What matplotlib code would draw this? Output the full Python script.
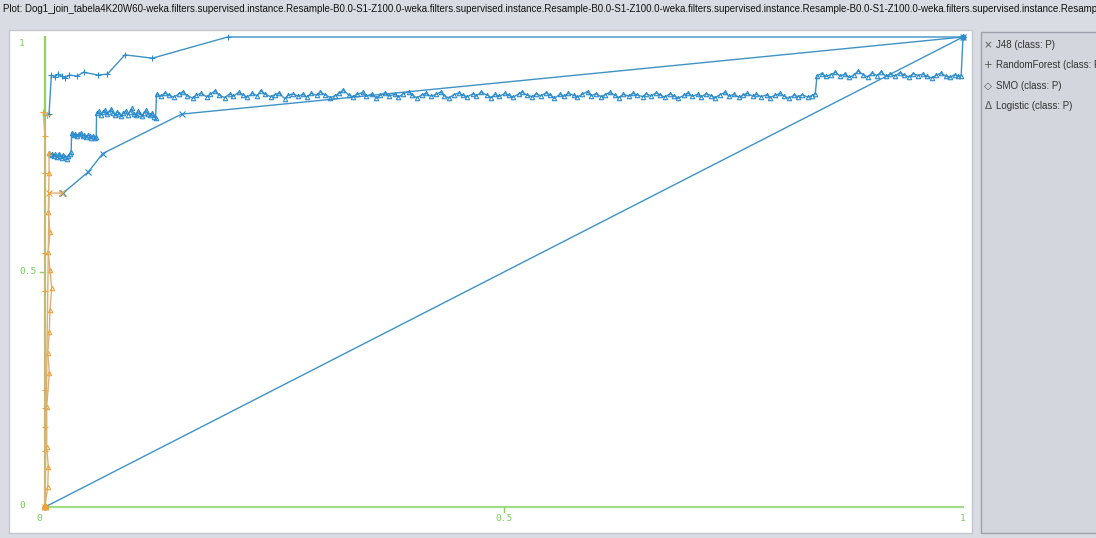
import matplotlib
matplotlib.use("Agg")
import matplotlib.pyplot as plt
from matplotlib.patches import Rectangle

# ---------------------------------------------------------------- data
title = ("Plot: Dog1_join_tabela4K20W60-weka.filters.supervised.instance.Resample-B0.0-S1-Z100.0"
         "-weka.filters.supervised.instance.Resample-B0.0-S1-Z100.0"
         "-weka.filters.supervised.instance.Resample-B0.0-S1-Z100.0"
         "-weka.filters.supervised.instance.Resamp")

legend_symbols = ["\u00d7", "+", "\u25c7", "\u0394"]
legend_labels = ["J48 (class: P)", "RandomForest (class: P)", "SMO (class: P)", "Logistic (class: P)"]

x_ticks = [0, 0.5, 1]
x_tick_labels = ["0", "0.5", "1"]
y_ticks = [0, 0.5, 1]
y_tick_labels = ["0", "0.5", "1"]

# J48: high-threshold part, then the rest
j48_fpr_hi = [0.0, 0.0044, 0.0185]
j48_tpr_hi = [0.0, 0.668, 0.668]
j48_fpr = [0.0185, 0.0196, 0.0472, 0.0628, 0.149, 1.0]
j48_tpr = [0.668, 0.668, 0.713, 0.752, 0.836, 1.0]

# RandomForest
rf_fpr_hi = [0.0, 0.0, 0.0, 0.0, 0.0, 0.0, 0.0, 0.0, 0.0, -0.002, 0.0025]
rf_tpr_hi = [0.0, 0.12, 0.17, 0.21, 0.25, 0.46, 0.54, 0.71, 0.79, 0.84, 0.835]
rf_fpr = [0.0025, 0.0044, 0.0069, 0.011, 0.014, 0.018, 0.022, 0.0265, 0.035,
          0.042, 0.058, 0.068, 0.087, 0.117, 0.199, 1.0]
rf_tpr = [0.835, 0.836, 0.919, 0.915, 0.921, 0.917, 0.913, 0.919, 0.917,
          0.925, 0.919, 0.921, 0.962, 0.955, 1.0, 1.0]

# SMO
smo_fpr = [0.0, 1.0]
smo_tpr = [0.0, 1.0]

# Logistic
log_fpr_hi = [0.0, 0.003, 0.0036, 0.0019, 0.0019, 0.0047, 0.003, 0.0047, 0.0054,
              0.0073, 0.0054, 0.0036, 0.0054, 0.0036, 0.0044, 0.0044]
log_tpr_hi = [0.003, 0.043, 0.086, 0.128, 0.213, 0.286, 0.328, 0.373, 0.419,
              0.466, 0.504, 0.543, 0.585, 0.628, 0.711, 0.754]

log_fpr = [
    # first plateau
    0.0044, 0.0060, 0.0078, 0.0095, 0.0112, 0.0130, 0.0148, 0.0165, 0.0182, 0.0200,
    0.0218, 0.0236, 0.0255, 0.0272, 0.0285,
    # second plateau
    0.0290, 0.0312, 0.0330, 0.0351, 0.0370, 0.0392, 0.0410, 0.0428, 0.0447, 0.0466,
    0.0485, 0.0503, 0.0522, 0.0540, 0.0558,
    # third plateau
    0.0562, 0.0585, 0.0606, 0.0630, 0.0651, 0.0675, 0.0698, 0.0720, 0.0742, 0.0765,
    0.0788, 0.0810, 0.0833, 0.0855, 0.0878, 0.0900, 0.0922, 0.0945, 0.0967, 0.0990,
    0.1012, 0.1035, 0.1058, 0.1080, 0.1102, 0.1125, 0.1148, 0.1170, 0.1190, 0.1205,
    # long plateau
    0.1215, 0.126, 0.131, 0.135, 0.140, 0.146, 0.150, 0.155, 0.161, 0.165,
    0.170, 0.176, 0.180, 0.185, 0.190, 0.196, 0.201, 0.205, 0.211, 0.216,
    0.220, 0.226, 0.231, 0.235, 0.240, 0.246, 0.250, 0.255, 0.261, 0.265,
    0.270, 0.276, 0.281, 0.285, 0.290, 0.296, 0.300, 0.305, 0.311, 0.316,
    0.320, 0.325, 0.331, 0.335, 0.340, 0.346, 0.350, 0.356, 0.361, 0.365,
    0.370, 0.375, 0.381, 0.385, 0.390, 0.396, 0.400, 0.405, 0.411, 0.415,
    0.420, 0.426, 0.431, 0.435, 0.440, 0.445, 0.451, 0.455, 0.460, 0.466,
    0.470, 0.475, 0.481, 0.486, 0.490, 0.495, 0.501, 0.505, 0.510, 0.516,
    0.520, 0.525, 0.531, 0.535, 0.540, 0.546, 0.550, 0.555, 0.561, 0.565,
    0.570, 0.576, 0.580, 0.585, 0.591, 0.595, 0.600, 0.606, 0.610, 0.615,
    0.621, 0.625, 0.630, 0.636, 0.640, 0.645, 0.651, 0.655, 0.660, 0.666,
    0.670, 0.675, 0.681, 0.685, 0.690, 0.696, 0.700, 0.705, 0.711, 0.715,
    0.720, 0.726, 0.730, 0.735, 0.741, 0.745, 0.750, 0.756, 0.760, 0.765,
    0.771, 0.775, 0.780, 0.786, 0.790, 0.795, 0.801, 0.805, 0.810, 0.816,
    0.820, 0.825, 0.831, 0.835, 0.839,
    # last plateau
    0.841, 0.846, 0.851, 0.856, 0.861, 0.866, 0.871, 0.876, 0.881, 0.886,
    0.891, 0.896, 0.901, 0.906, 0.911, 0.916, 0.921, 0.926, 0.931, 0.936,
    0.941, 0.946, 0.951, 0.956, 0.961, 0.966, 0.971, 0.976, 0.981, 0.986,
    0.991, 0.995, 0.998,
    1.0,
]
log_tpr = [
    0.754, 0.748, 0.752, 0.746, 0.750, 0.744, 0.751, 0.747, 0.742, 0.749,
    0.745, 0.741, 0.747, 0.752, 0.756,
    0.796, 0.791, 0.794, 0.789, 0.793, 0.795, 0.790, 0.792, 0.787, 0.791,
    0.789, 0.786, 0.790, 0.785, 0.788,
    0.838, 0.842, 0.835, 0.840, 0.844, 0.837, 0.841, 0.846, 0.839, 0.834,
    0.841, 0.836, 0.832, 0.838, 0.843, 0.835, 0.840, 0.848, 0.836, 0.833,
    0.842, 0.837, 0.831, 0.839, 0.844, 0.836, 0.833, 0.838, 0.830, 0.828,
    0.878, 0.874, 0.881, 0.876, 0.872, 0.879, 0.883, 0.875, 0.870, 0.877,
    0.880, 0.873, 0.878, 0.885, 0.876, 0.871, 0.879, 0.874, 0.882, 0.877,
    0.872, 0.880, 0.875, 0.886, 0.878, 0.873, 0.877, 0.881, 0.869, 0.876,
    0.879, 0.874, 0.878, 0.872, 0.880, 0.876, 0.883, 0.877, 0.871, 0.875,
    0.880, 0.887, 0.876, 0.873, 0.878, 0.882, 0.874, 0.879, 0.870, 0.876,
    0.881, 0.875, 0.878, 0.872, 0.879, 0.884, 0.876, 0.871, 0.877, 0.880,
    0.874, 0.878, 0.883, 0.875, 0.870, 0.877, 0.881, 0.876, 0.873, 0.879,
    0.875, 0.882, 0.877, 0.871, 0.878, 0.874, 0.880, 0.876, 0.872, 0.879,
    0.883, 0.876, 0.873, 0.879, 0.875, 0.881, 0.877, 0.870, 0.878, 0.874,
    0.880, 0.876, 0.872, 0.878, 0.884, 0.875, 0.879, 0.873, 0.877, 0.882,
    0.876, 0.871, 0.878, 0.874, 0.880, 0.877, 0.873, 0.879, 0.875, 0.881,
    0.877, 0.872, 0.879, 0.875, 0.870, 0.876, 0.881, 0.874, 0.878, 0.873,
    0.879, 0.875, 0.871, 0.877, 0.882, 0.874, 0.878, 0.872, 0.876, 0.880,
    0.874, 0.878, 0.873, 0.877, 0.871, 0.876, 0.880, 0.874, 0.870, 0.876,
    0.873, 0.877, 0.872, 0.875, 0.878,
    0.918, 0.922, 0.916, 0.920, 0.925, 0.917, 0.921, 0.914, 0.919, 0.928,
    0.920, 0.915, 0.923, 0.918, 0.926, 0.916, 0.921, 0.917, 0.924, 0.919,
    0.915, 0.922, 0.918, 0.921, 0.916, 0.913, 0.919, 0.923, 0.917, 0.914,
    0.920, 0.916, 0.918,
    1.0,
]

# ---------------------------------------------------------------- style
W, H = 1096, 538
BG = "#d9dce3"
BLUE_LINE = "#3d93c6"
BLUE_MARK = "#2a8bcf"
ORANGE = "#f0a238"
TAN = "#dcb07a"
GREEN_AXIS = "#8ed35e"
GREEN_TEXT = "#78cc58"

plt.rcParams["font.family"] = ["Liberation Sans", "DejaVu Sans"]


def fx(px):
    return px / W


def fy(py):
    return 1 - py / H


fig = plt.figure(figsize=(W / 100, H / 100), dpi=100, facecolor=BG)

# white plotting panel and grey legend panel (behind the axes)
fig.patches.append(Rectangle((fx(9), fy(533)), fx(972) - fx(9), fy(30) - fy(533),
                             transform=fig.transFigure, facecolor="white",
                             edgecolor="#c3c6cd", lw=1, zorder=-2))
fig.patches.append(Rectangle((fx(981), fy(533)), fx(1110) - fx(981), fy(32) - fy(533),
                             transform=fig.transFigure, facecolor="#d3d6dd",
                             edgecolor="#9ea2aa", lw=1, zorder=-2))

ax = fig.add_axes([fx(45), fy(507), fx(963) - fx(45), fy(37) - fy(507)])
ax.set_zorder(1)
ax.set_xlim(0, 1)
ax.set_ylim(0, 1)
ax.axis("off")
ax.patch.set_alpha(0)

# axes in green with small ticks at the middle
ax.plot([0, 0], [0, 1], color=GREEN_AXIS, lw=1.6, clip_on=False, zorder=1)
ax.plot([0, 1], [0, 0], color="#a2dc86", lw=1.6, clip_on=False, zorder=1)
ax.plot([-0.0055, 0], [0.5, 0.5], color=GREEN_AXIS, lw=1, clip_on=False)
ax.plot([0.5, 0.5], [0, -0.011], color=GREEN_AXIS, lw=1, clip_on=False)

mono = "DejaVu Sans Mono"
for v, lab in zip(x_ticks, x_tick_labels):
    ax.text(v - (0.006 if v == 0 else 0.0), -0.024, lab, ha="center", va="center",
            fontsize=6.8, color=GREEN_TEXT, family=mono, clip_on=False)
for v, lab in zip(y_ticks, y_tick_labels):
    ax.text(-0.028, v + (0.004 if v == 0 else -0.013 if v == 1 else 0.0), lab,
            ha="left", va="center", fontsize=6.8, color=GREEN_TEXT, family=mono,
            clip_on=False)

common = dict(lw=1.0, clip_on=False, mfc="none", mew=0.8)

# SMO
ax.plot(smo_fpr, smo_tpr, color=BLUE_LINE, marker="D", ms=3, mec=BLUE_MARK, zorder=2, **common)

# J48
ax.plot(j48_fpr, j48_tpr, color=BLUE_LINE, marker="x", ms=4.5, mec=BLUE_MARK, zorder=3, **common)

# RandomForest
ax.plot(rf_fpr, rf_tpr, color=BLUE_LINE, marker="+", ms=5, mec=BLUE_MARK, zorder=3, **common)

# Logistic
ax.plot(log_fpr, log_tpr, color=BLUE_LINE, marker="^", ms=3.2, mec=BLUE_MARK, zorder=3, **common)

# high-threshold ends of the curves
ax.plot(log_fpr_hi, log_tpr_hi, color=TAN, marker="^", ms=3.2, mec=ORANGE, zorder=4, **common)
ax.plot(rf_fpr_hi, rf_tpr_hi, color=TAN, marker="+", ms=5, mec=ORANGE, zorder=4, **common)
ax.plot(j48_fpr_hi, j48_tpr_hi, color=TAN, marker="x", ms=4, mec=ORANGE, zorder=4, **common)
ax.plot(smo_fpr[:1], smo_tpr[:1], ls="none", marker="D", ms=3, mec=ORANGE, zorder=5,
        clip_on=False, mfc="none", mew=0.8)
ax.plot(log_fpr_hi[:1], log_tpr_hi[:1], ls="none", marker="^", ms=5, mfc=ORANGE, mec=ORANGE,
        zorder=5, clip_on=False)

# title across the top
fig.text(fx(3), fy(9), title, ha="left", va="center", fontsize=7.0, color="#111111")

# legend
for i, (sym, lab) in enumerate(zip(legend_symbols, legend_labels)):
    ypx = 45 + i * 20.3
    fig.text(fx(988), fy(ypx), sym, ha="center", va="center", fontsize=7.5,
             color="#555555", family=["DejaVu Sans"])
    fig.text(fx(996), fy(ypx), lab, ha="left", va="center", fontsize=7.0, color="#333333")

fig.savefig("out.png", dpi=100, facecolor=BG)
